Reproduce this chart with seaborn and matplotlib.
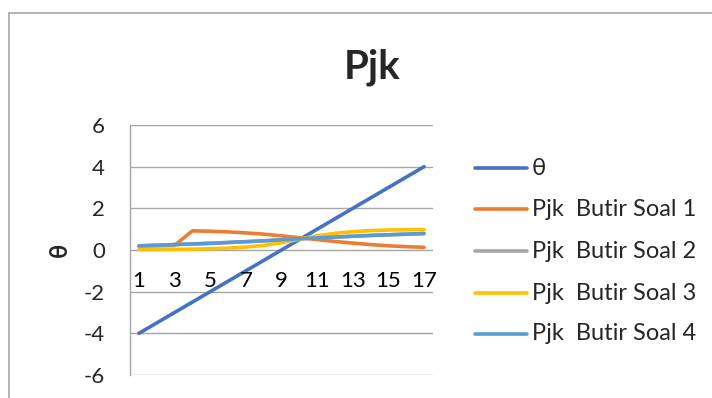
import matplotlib
matplotlib.use("Agg")
import matplotlib.pyplot as plt
import seaborn as sns
import pandas as pd
from matplotlib.patches import Rectangle

# Category positions along the horizontal axis
points = list(range(1, 18))

# Ability level for each point
theta = [-4.0, -3.5, -3.0, -2.5, -2.0, -1.5, -1.0, -0.5, 0.0,
         0.5, 1.0, 1.5, 2.0, 2.5, 3.0, 3.5, 4.0]

# Probability curves per item
pjk_soal_1 = [0.20, 0.20, 0.22, 0.92, 0.90, 0.87, 0.82, 0.76, 0.68,
              0.59, 0.50, 0.41, 0.33, 0.26, 0.20, 0.16, 0.13]
pjk_soal_2 = [0.20, 0.23, 0.26, 0.29, 0.32, 0.36, 0.40, 0.44, 0.49,
              0.54, 0.58, 0.62, 0.66, 0.70, 0.73, 0.76, 0.79]
pjk_soal_3 = [0.02, 0.02, 0.03, 0.04, 0.06, 0.09, 0.14, 0.22, 0.35,
              0.52, 0.68, 0.80, 0.88, 0.93, 0.96, 0.97, 0.98]
pjk_soal_4 = [0.20, 0.23, 0.26, 0.29, 0.32, 0.36, 0.40, 0.44, 0.49,
              0.54, 0.58, 0.62, 0.66, 0.70, 0.73, 0.76, 0.79]

series_names = ["θ", "Pjk  Butir Soal 1", "Pjk  Butir Soal 2",
                "Pjk  Butir Soal 3", "Pjk  Butir Soal 4"]
series_values = [theta, pjk_soal_1, pjk_soal_2, pjk_soal_3, pjk_soal_4]
colors = ["#4472C4", "#ED7D31", "#A5A5A5", "#FFC000", "#5B9BD5"]

y_ticks = [-6, -4, -2, 0, 2, 4, 6]
x_tick_labels = [str(p) for p in points if p % 2 == 1]

sns.set_theme(style="white")
plt.rcParams["font.family"] = ["Lato", "DejaVu Sans"]

df = pd.DataFrame(
    [(p, v, name) for name, vals in zip(series_names, series_values)
     for p, v in zip(points, vals)],
    columns=["point", "value", "series"],
)

fig = plt.figure(figsize=(7.12, 3.98), dpi=100)
W, H = 712, 398
ax = fig.add_axes([130 / W, 1 - 375 / H, (433 - 130) / W, (375 - 125) / H])

sns.lineplot(data=df, x="point", y="value", hue="series",
             hue_order=series_names, palette=colors, linewidth=2.6,
             ax=ax, legend=False, sort=False)

ax.set_xlim(0.5, 17.5)
ax.set_ylim(-6, 6)
ax.set_yticks(y_ticks)
ax.set_yticklabels([str(t) for t in y_ticks], fontsize=16)
ax.tick_params(axis="y", pad=18, length=0)
ax.set_xticks([])
ax.set_xlabel("")
ax.set_ylabel("θ", fontsize=17, fontweight="bold")
ax.yaxis.set_label_coords(-0.195, 0.5)

ax.grid(axis="y", color="#A6A6A6", linewidth=1.0)
ax.set_axisbelow(True)
for side in ["top", "right", "bottom"]:
    ax.spines[side].set_visible(False)
ax.spines["left"].set_color("#A6A6A6")
ax.spines["left"].set_linewidth(1.0)

# Category labels sit just under the zero line
for lbl in x_tick_labels:
    ax.text(int(lbl), -1.5, lbl, ha="center", va="center", fontsize=16,
            color="black")

fig.text(372 / W, 1 - 67 / H, "Pjk", ha="center", va="center",
         fontsize=29, fontweight="bold")

# Legend entries
legend_y = [168, 209, 251, 293, 334]
for name, color, ly in zip(series_names, colors, legend_y):
    fig.add_artist(plt.Line2D([475 / W, 527 / W], [1 - ly / H, 1 - ly / H],
                              color=color, linewidth=2.6,
                              transform=fig.transFigure))
    fig.text(532 / W, 1 - ly / H, name, ha="left", va="center", fontsize=17)

# Chart area frame
fig.add_artist(Rectangle((9 / W, -0.05), 1.2, 1 - 13 / H + 0.05,
                         transform=fig.transFigure, fill=False,
                         edgecolor="#A6A6A6", linewidth=1.2))

fig.savefig("out.png", dpi=100)
